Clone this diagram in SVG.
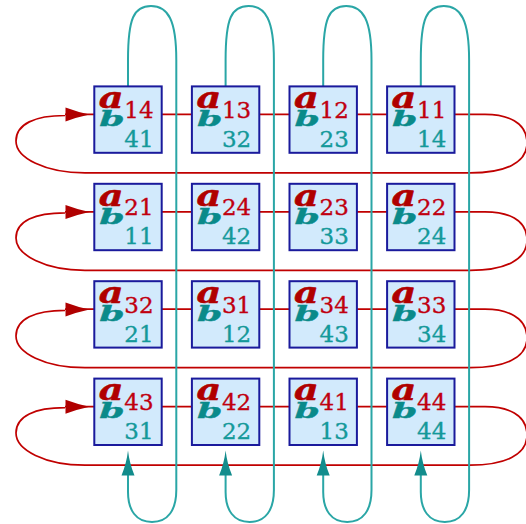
<svg xmlns="http://www.w3.org/2000/svg" width="526" height="524" viewBox="0 0 526 524">
  <style>
    .row { fill: none; stroke: #c00000; stroke-width: 1.7; }
    .col { fill: none; stroke: #2aa6a6; stroke-width: 2; }
    .rhead { fill: #b00000; }
    .chead { fill: #128c8c; }
    .box { fill: #d2eafc; stroke: #1a1a9c; stroke-width: 2; }
    .a { font-family: "DejaVu Serif", serif; font-weight: bold; font-style: italic; font-size: 29px; fill: #b00000; stroke: #b00000; stroke-width: 0.5; }
    .b { font-family: "DejaVu Serif", serif; font-weight: bold; font-style: italic; font-size: 29px; fill: #0a8a8a; stroke: #0a8a8a; stroke-width: 0.5; }
    .na { font-family: "DejaVu Serif", serif; font-size: 23px; fill: #c00010; stroke: #c00010; stroke-width: 0.35; }
    .nb { font-family: "DejaVu Serif", serif; font-size: 23px; fill: #14999a; stroke: #14999a; stroke-width: 0.35; }
  </style>
  <defs>
    <path id="rarrow" d="M0 0 Q-12 -2.5 -24 -7 L-24 7 Q-12 2.5 0 0 Z"/>
    <path id="carrow" d="M0 0 Q-1.5 13 -6.5 25 L6.5 25 Q1.5 13 0 0 Z"/>
  </defs>

  <!-- connectors: row rings (red) and column rings (teal) -->
  <g id="connectors">
    <g id="rows">
      <path class="row" d="M65 114.4 L485 114.4 C507 114.4 527 122 527 143 C527 163 505 172.9 470 172.9 L85 172.9 C45 172.9 16 158 16 141 C16 124 35 115.5 65 115.5"/>
      <path class="row" d="M65 211.8 L485 211.8 C507 211.8 527 219 527 240 C527 260 505 270.3 470 270.3 L85 270.3 C45 270.3 16 255 16 238 C16 221 35 212.9 65 212.9"/>
      <path class="row" d="M65 309.2 L485 309.2 C507 309.2 527 317 527 338 C527 358 505 367.7 470 367.7 L85 367.7 C45 367.7 16 353 16 336 C16 319 35 310.3 65 310.3"/>
      <path class="row" d="M65 406.6 L485 406.6 C507 406.6 527 414 527 435 C527 455 505 465.1 470 465.1 L85 465.1 C45 465.1 16 450 16 433 C16 416 35 407.7 65 407.7"/>
      <use href="#rarrow" class="rhead" x="89.5" y="114.6"/>
      <use href="#rarrow" class="rhead" x="89.5" y="212"/>
      <use href="#rarrow" class="rhead" x="89.5" y="309.4"/>
      <use href="#rarrow" class="rhead" x="89.5" y="406.8"/>
    </g>
    <g id="cols">
      <path class="col" d="M128 90 L128 60 C128 18 134 6 151 6 C168 6 176.3 20 176.3 60 L176.3 490 C176.3 510 168 522 152 522 C136 522 128 510 128 492 L128 475"/>
      <path class="col" d="M225.6 90 L225.6 60 C225.6 18 231.6 6 248.6 6 C265.6 6 273.9 20 273.9 60 L273.9 490 C273.9 510 265.6 522 249.6 522 C233.6 522 225.6 510 225.6 492 L225.6 475"/>
      <path class="col" d="M323.2 90 L323.2 60 C323.2 18 329.2 6 346.2 6 C363.2 6 371.5 20 371.5 60 L371.5 490 C371.5 510 363.2 522 347.2 522 C331.2 522 323.2 510 323.2 492 L323.2 475"/>
      <path class="col" d="M420.8 90 L420.8 60 C420.8 18 426.8 6 443.8 6 C460.8 6 469.1 20 469.1 60 L469.1 490 C469.1 510 460.8 522 444.8 522 C428.8 522 420.8 510 420.8 492 L420.8 475"/>
      <use href="#carrow" class="chead" x="128" y="450.5"/>
      <use href="#carrow" class="chead" x="225.6" y="450.5"/>
      <use href="#carrow" class="chead" x="323.2" y="450.5"/>
      <use href="#carrow" class="chead" x="420.8" y="450.5"/>
    </g>
  </g>

  <!-- processing cells: a index (superscript), b index (subscript) -->
  <g id="n11" transform="translate(93.3,85.4)"><rect class="box" x="1" y="1" width="67.4" height="66.4"/><text class="a" transform="translate(5.5,22.7) scale(1.32,1)">a</text><text class="na" x="31" y="32.7">14</text><text class="b" transform="translate(6,40.7) scale(1.25,0.7)">b</text><text class="nb" x="31" y="61.7">41</text></g>
  <g id="n12" transform="translate(190.9,85.4)"><rect class="box" x="1" y="1" width="67.4" height="66.4"/><text class="a" transform="translate(5.5,22.7) scale(1.32,1)">a</text><text class="na" x="31" y="32.7">13</text><text class="b" transform="translate(6,40.7) scale(1.25,0.7)">b</text><text class="nb" x="31" y="61.7">32</text></g>
  <g id="n13" transform="translate(288.5,85.4)"><rect class="box" x="1" y="1" width="67.4" height="66.4"/><text class="a" transform="translate(5.5,22.7) scale(1.32,1)">a</text><text class="na" x="31" y="32.7">12</text><text class="b" transform="translate(6,40.7) scale(1.25,0.7)">b</text><text class="nb" x="31" y="61.7">23</text></g>
  <g id="n14" transform="translate(386.1,85.4)"><rect class="box" x="1" y="1" width="67.4" height="66.4"/><text class="a" transform="translate(5.5,22.7) scale(1.32,1)">a</text><text class="na" x="31" y="32.7">11</text><text class="b" transform="translate(6,40.7) scale(1.25,0.7)">b</text><text class="nb" x="31" y="61.7">14</text></g>

  <g id="n21" transform="translate(93.3,182.8)"><rect class="box" x="1" y="1" width="67.4" height="66.4"/><text class="a" transform="translate(5.5,22.7) scale(1.32,1)">a</text><text class="na" x="31" y="32.7">21</text><text class="b" transform="translate(6,40.7) scale(1.25,0.7)">b</text><text class="nb" x="31" y="61.7">11</text></g>
  <g id="n22" transform="translate(190.9,182.8)"><rect class="box" x="1" y="1" width="67.4" height="66.4"/><text class="a" transform="translate(5.5,22.7) scale(1.32,1)">a</text><text class="na" x="31" y="32.7">24</text><text class="b" transform="translate(6,40.7) scale(1.25,0.7)">b</text><text class="nb" x="31" y="61.7">42</text></g>
  <g id="n23" transform="translate(288.5,182.8)"><rect class="box" x="1" y="1" width="67.4" height="66.4"/><text class="a" transform="translate(5.5,22.7) scale(1.32,1)">a</text><text class="na" x="31" y="32.7">23</text><text class="b" transform="translate(6,40.7) scale(1.25,0.7)">b</text><text class="nb" x="31" y="61.7">33</text></g>
  <g id="n24" transform="translate(386.1,182.8)"><rect class="box" x="1" y="1" width="67.4" height="66.4"/><text class="a" transform="translate(5.5,22.7) scale(1.32,1)">a</text><text class="na" x="31" y="32.7">22</text><text class="b" transform="translate(6,40.7) scale(1.25,0.7)">b</text><text class="nb" x="31" y="61.7">24</text></g>

  <g id="n31" transform="translate(93.3,280.2)"><rect class="box" x="1" y="1" width="67.4" height="66.4"/><text class="a" transform="translate(5.5,22.7) scale(1.32,1)">a</text><text class="na" x="31" y="32.7">32</text><text class="b" transform="translate(6,40.7) scale(1.25,0.7)">b</text><text class="nb" x="31" y="61.7">21</text></g>
  <g id="n32" transform="translate(190.9,280.2)"><rect class="box" x="1" y="1" width="67.4" height="66.4"/><text class="a" transform="translate(5.5,22.7) scale(1.32,1)">a</text><text class="na" x="31" y="32.7">31</text><text class="b" transform="translate(6,40.7) scale(1.25,0.7)">b</text><text class="nb" x="31" y="61.7">12</text></g>
  <g id="n33" transform="translate(288.5,280.2)"><rect class="box" x="1" y="1" width="67.4" height="66.4"/><text class="a" transform="translate(5.5,22.7) scale(1.32,1)">a</text><text class="na" x="31" y="32.7">34</text><text class="b" transform="translate(6,40.7) scale(1.25,0.7)">b</text><text class="nb" x="31" y="61.7">43</text></g>
  <g id="n34" transform="translate(386.1,280.2)"><rect class="box" x="1" y="1" width="67.4" height="66.4"/><text class="a" transform="translate(5.5,22.7) scale(1.32,1)">a</text><text class="na" x="31" y="32.7">33</text><text class="b" transform="translate(6,40.7) scale(1.25,0.7)">b</text><text class="nb" x="31" y="61.7">34</text></g>

  <g id="n41" transform="translate(93.3,377.6)"><rect class="box" x="1" y="1" width="67.4" height="66.4"/><text class="a" transform="translate(5.5,22.7) scale(1.32,1)">a</text><text class="na" x="31" y="32.7">43</text><text class="b" transform="translate(6,40.7) scale(1.25,0.7)">b</text><text class="nb" x="31" y="61.7">31</text></g>
  <g id="n42" transform="translate(190.9,377.6)"><rect class="box" x="1" y="1" width="67.4" height="66.4"/><text class="a" transform="translate(5.5,22.7) scale(1.32,1)">a</text><text class="na" x="31" y="32.7">42</text><text class="b" transform="translate(6,40.7) scale(1.25,0.7)">b</text><text class="nb" x="31" y="61.7">22</text></g>
  <g id="n43" transform="translate(288.5,377.6)"><rect class="box" x="1" y="1" width="67.4" height="66.4"/><text class="a" transform="translate(5.5,22.7) scale(1.32,1)">a</text><text class="na" x="31" y="32.7">41</text><text class="b" transform="translate(6,40.7) scale(1.25,0.7)">b</text><text class="nb" x="31" y="61.7">13</text></g>
  <g id="n44" transform="translate(386.1,377.6)"><rect class="box" x="1" y="1" width="67.4" height="66.4"/><text class="a" transform="translate(5.5,22.7) scale(1.32,1)">a</text><text class="na" x="31" y="32.7">44</text><text class="b" transform="translate(6,40.7) scale(1.25,0.7)">b</text><text class="nb" x="31" y="61.7">44</text></g>
</svg>
